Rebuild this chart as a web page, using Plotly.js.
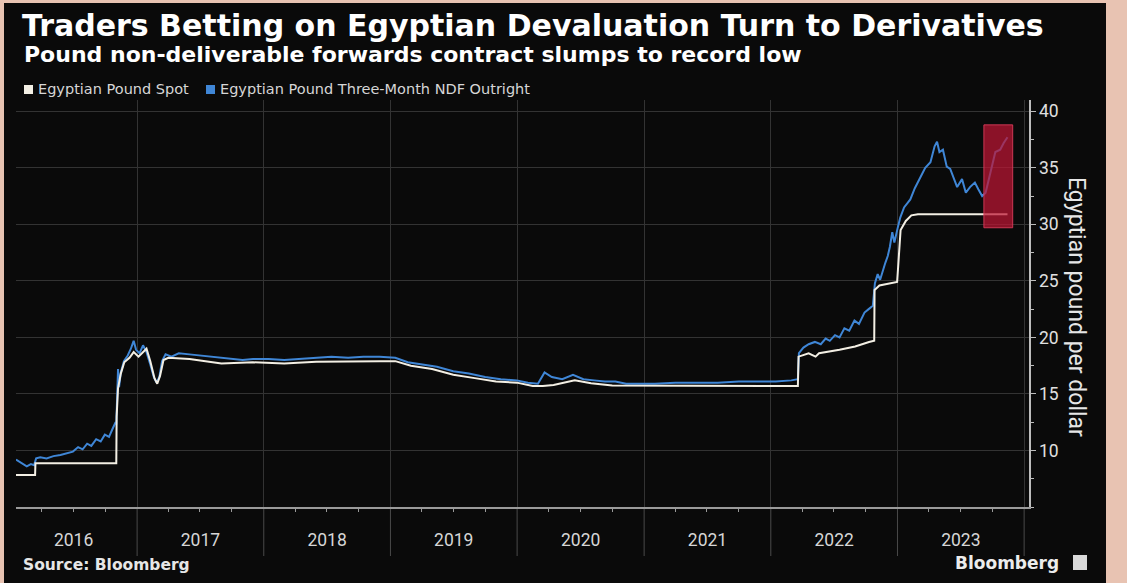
<!DOCTYPE html>
<html>
<head>
<meta charset="utf-8">
<script src="https://cdn.plot.ly/plotly-2.35.2.min.js"></script>
<style>
html,body{margin:0;padding:0;background:#e8c3b2;width:1127px;height:583px;overflow:hidden;}
#chart{position:absolute;left:4px;top:3px;width:1102px;height:580px;}
</style>
</head>
<body>
<div id="chart"></div>
<script>
// ---- Data ----
const spotDates = [
 "2016-01-18","2016-03-13","2016-03-14","2016-11-02","2016-11-03","2016-11-07","2016-11-15","2016-11-25",
 "2016-12-10","2016-12-22","2017-01-05","2017-01-15","2017-01-28","2017-02-08","2017-02-20","2017-02-28",
 "2017-03-08","2017-03-18","2017-04-01","2017-06-01","2017-09-01","2017-12-01","2018-03-01","2018-06-01",
 "2018-09-01","2018-12-01","2019-01-15","2019-03-01","2019-05-01","2019-07-01","2019-09-01","2019-11-01",
 "2019-12-31","2020-02-15","2020-03-15","2020-04-15","2020-06-15","2020-08-01","2020-10-01","2020-12-31",
 "2021-06-01","2021-12-31","2022-03-20","2022-03-22","2022-04-20","2022-05-10","2022-05-20","2022-07-18",
 "2022-09-01","2022-10-11","2022-10-26","2022-10-27","2022-11-10","2022-12-31","2023-01-04","2023-01-10",
 "2023-01-25","2023-02-10","2023-03-01","2023-06-01","2023-09-01","2023-11-14"
];
const spotValues = [
 7.83,7.83,8.88,8.88,13.0,15.5,16.8,17.8,
 18.2,18.7,18.3,18.6,19.0,17.9,16.4,15.9,
 16.6,18.0,18.2,18.1,17.7,17.8,17.7,17.85,
 17.9,17.9,17.9,17.5,17.2,16.7,16.4,16.1,
 16.0,15.7,15.7,15.8,16.2,15.95,15.75,15.75,
 15.7,15.7,15.7,18.3,18.6,18.3,18.6,18.9,
 19.2,19.6,19.7,24.2,24.6,24.9,27.0,29.5,
 30.3,30.8,30.9,30.9,30.9,30.9
];

const ndfDates = [
 "2016-01-18","2016-01-28","2016-02-08","2016-02-18","2016-03-01","2016-03-10","2016-03-16","2016-03-28",
 "2016-04-15","2016-05-05","2016-05-25","2016-06-15","2016-06-30","2016-07-15","2016-07-28","2016-08-10",
 "2016-08-22","2016-09-05","2016-09-18","2016-09-30","2016-10-12","2016-10-22","2016-10-31","2016-11-02",
 "2016-11-04","2016-11-07","2016-11-10","2016-11-15","2016-11-24","2016-12-05","2016-12-14","2016-12-22",
 "2016-12-29","2017-01-08","2017-01-18","2017-01-28","2017-02-08","2017-02-18","2017-02-26","2017-03-06",
 "2017-03-14","2017-03-24","2017-04-10","2017-05-01","2017-06-01","2017-07-01","2017-08-01","2017-09-01",
 "2017-10-01","2017-11-01","2017-12-01","2018-01-15","2018-03-01","2018-04-15","2018-06-01","2018-07-15",
 "2018-09-01","2018-10-15","2018-12-01","2019-01-15","2019-02-20","2019-04-01","2019-05-15","2019-07-01",
 "2019-08-15","2019-10-01","2019-11-15","2019-12-31","2020-02-01","2020-03-01","2020-03-20","2020-04-10",
 "2020-05-10","2020-06-10","2020-07-10","2020-08-10","2020-09-10","2020-10-10","2020-11-10","2020-12-20",
 "2021-02-01","2021-04-01","2021-06-01","2021-08-01","2021-10-01","2021-12-01","2022-01-15","2022-03-01",
 "2022-03-20","2022-03-23","2022-04-05","2022-04-20","2022-05-08","2022-05-25","2022-06-08","2022-06-20",
 "2022-07-05","2022-07-18","2022-08-01","2022-08-15","2022-08-30","2022-09-12","2022-09-28","2022-10-10",
 "2022-10-22","2022-10-28","2022-11-05","2022-11-12","2022-11-20","2022-11-27","2022-12-04","2022-12-10",
 "2022-12-17","2022-12-23","2023-01-01","2023-01-09","2023-01-20","2023-02-07","2023-02-20","2023-03-08",
 "2023-03-22","2023-04-06","2023-04-18","2023-04-25","2023-05-02","2023-05-12","2023-05-23","2023-06-02",
 "2023-06-12","2023-06-22","2023-07-06","2023-07-17","2023-07-29","2023-08-12","2023-08-22","2023-09-02",
 "2023-09-12","2023-09-25","2023-10-10","2023-10-24","2023-11-03","2023-11-14"
];
const ndfValues = [
 9.2,9.0,8.8,8.6,8.8,8.7,9.3,9.4,
 9.3,9.5,9.6,9.8,9.9,10.3,10.1,10.6,
 10.4,11.0,10.8,11.4,11.2,11.9,12.5,12.3,
 15.0,17.2,15.6,16.9,17.9,18.4,19.0,19.7,
 18.9,18.6,19.3,18.7,17.6,16.5,16.0,16.5,
 17.9,18.5,18.3,18.6,18.5,18.4,18.3,18.2,
 18.1,18.0,18.1,18.1,18.0,18.1,18.2,18.3,
 18.2,18.3,18.3,18.2,17.8,17.6,17.4,17.0,
 16.8,16.5,16.3,16.2,16.0,15.9,16.9,16.5,
 16.3,16.7,16.3,16.2,16.1,16.1,15.9,15.9,
 15.9,16.0,16.0,16.0,16.1,16.1,16.1,16.2,
 16.3,18.6,19.1,19.4,19.6,19.4,19.9,19.7,
 20.2,20.0,20.8,20.6,21.5,21.2,22.2,22.5,
 22.8,24.8,25.6,25.1,26.0,26.6,27.2,28.0,
 29.3,28.4,29.6,30.6,31.5,32.2,33.2,34.2,
 35.0,35.5,36.9,37.3,36.4,36.6,35.1,34.9,
 34.0,33.3,34.0,32.8,33.3,33.7,33.1,32.5,
 32.8,34.6,36.4,36.6,37.2,37.7
];

const seriesNames = ["Egyptian Pound Spot","Egyptian Pound Three-Month NDF Outright"];
const seriesColors = ["#f3efe4","#3f86d6"];
const yTickVals = [10,15,20,25,30,35,40];
const yearLines = ["2017-01-01","2018-01-01","2019-01-01","2020-01-01","2021-01-01","2022-01-01","2023-01-01","2024-01-01"];
const highlightBox = {x0:"2023-09-07", x1:"2023-11-29", y0:29.7, y1:38.8};

// ---- Layout helpers (absolute picture pixel -> paper fraction) ----
const OX = 4, OY = 3;            // div offset in the page
const W = 1102, H = 580;
const M = {l:12, r:77, t:97, b:76};
const PW = W - M.l - M.r, PH = H - M.t - M.b;
const px = X => (X - OX - M.l) / PW;
const py = Y => (H - M.b - (Y - OY)) / PH;

const traces = [
 {x: ndfDates, y: ndfValues, name: seriesNames[1], type:"scatter", mode:"lines",
  line:{color:seriesColors[1], width:2}},
 {x: spotDates, y: spotValues, name: seriesNames[0], type:"scatter", mode:"lines",
  line:{color:seriesColors[0], width:2}}
];

const shapes = [];
// year dividers extending below the axis
yearLines.forEach(d => shapes.push({type:"line", xref:"x", yref:"paper", x0:d, x1:d, y0:py(556), y1:0,
  line:{color:"#4a4a4a", width:1}, layer:"below"}));
shapes.push(
 {type:"rect", xref:"x", yref:"y", x0:highlightBox.x0, x1:highlightBox.x1, y0:highlightBox.y0, y1:highlightBox.y1,
  fillcolor:"rgba(190,22,52,0.72)", line:{color:"rgba(215,60,90,0.9)", width:1}, layer:"above"},
 // legend squares
 {type:"rect", xref:"paper", yref:"paper", x0:px(24), x1:px(33), y0:py(94), y1:py(85),
  fillcolor:seriesColors[0], line:{width:0}},
 {type:"rect", xref:"paper", yref:"paper", x0:px(206), x1:px(215), y0:py(94), y1:py(85),
  fillcolor:seriesColors[1], line:{width:0}},
 // Bloomberg logo square
 {type:"rect", xref:"paper", yref:"paper", x0:px(1073), x1:px(1087), y0:py(570), y1:py(555),
  fillcolor:"#d9d9d9", line:{width:0}}
);

const font = "Roboto, 'Open Sans', sans-serif";

const annotations = [
 {text:"Pound non-deliverable forwards contract slumps to record low", xref:"paper", yref:"paper",
  x:px(22), y:py(55), xanchor:"left", yanchor:"middle", showarrow:false,
  font:{family:"DejaVu Sans", size:22, color:"#ffffff", weight:"bold"}},
 {text:seriesNames[0], xref:"paper", yref:"paper", x:px(36), y:py(89), xanchor:"left", yanchor:"middle", showarrow:false,
  font:{family:"DejaVu Sans", size:14.5, color:"#d6d6d6"}},
 {text:seriesNames[1], xref:"paper", yref:"paper", x:px(218), y:py(89), xanchor:"left", yanchor:"middle", showarrow:false,
  font:{family:"DejaVu Sans", size:14.5, color:"#d6d6d6"}},
 {text:"Egyptian pound per dollar", xref:"paper", yref:"paper", x:px(1077), y:py(307), xanchor:"center", yanchor:"middle",
  textangle:90, showarrow:false, font:{family:font, size:23, color:"#e6e6e6"}},
 {text:"Source: Bloomberg", xref:"paper", yref:"paper", x:px(21), y:py(565), xanchor:"left", yanchor:"middle", showarrow:false,
  font:{family:"DejaVu Sans", size:15.5, color:"#e6e6e6", weight:"bold"}},
 {text:"Bloomberg", xref:"paper", yref:"paper", x:px(1061), y:py(563), xanchor:"right", yanchor:"middle", showarrow:false,
  font:{family:"DejaVu Sans", size:17, color:"#ececec", weight:"bold"}}
];

const layout = {
 width:W, height:H,
 paper_bgcolor:"#0a0a0a", plot_bgcolor:"#0a0a0a",
 margin:M,
 showlegend:false,
 title:{text:"Traders Betting on Egyptian Devaluation Turn to Derivatives", xref:"container", yref:"container",
  x:(22-OX)/W, xanchor:"left", y:1-(25-OY)/H, yanchor:"middle",
  font:{family:"DejaVu Sans", size:30, color:"#ffffff", weight:"bold"}},
 xaxis:{type:"date", range:["2016-01-18","2024-01-15"],
  tickmode:"linear", tick0:"2016-01-01", dtick:"M12", tickformat:"%Y", ticklabelmode:"period",
  ticks:"", ticklabelstandoff:16,
  showgrid:true, gridcolor:"#333333", gridwidth:1,
  showline:true, linecolor:"#9a9a9a", linewidth:1.5,
  tickfont:{family:font, size:17.5, color:"#d6d6d6"},
  minor:{dtick:"M3", tick0:"2016-01-01", ticks:"outside", ticklen:3, tickcolor:"#9a9a9a", showgrid:false},
  zeroline:false, fixedrange:true},
 yaxis:{side:"right", range:[5,41], tickmode:"array", tickvals:yTickVals,
  ticks:"outside", ticklen:5, tickcolor:"#bdbdbd",
  showgrid:true, gridcolor:"#333333", gridwidth:1,
  showline:true, linecolor:"#bdbdbd", linewidth:1.5,
  tickfont:{family:font, size:17.5, color:"#e0e0e0"},
  minor:{dtick:2.5, tick0:5, ticks:"outside", ticklen:3, tickcolor:"#bdbdbd", showgrid:false},
  zeroline:false, fixedrange:true},
 shapes:shapes,
 annotations:annotations
};

Plotly.newPlot("chart", traces, layout, {displayModeBar:false, staticPlot:true});
</script>
</body>
</html>
